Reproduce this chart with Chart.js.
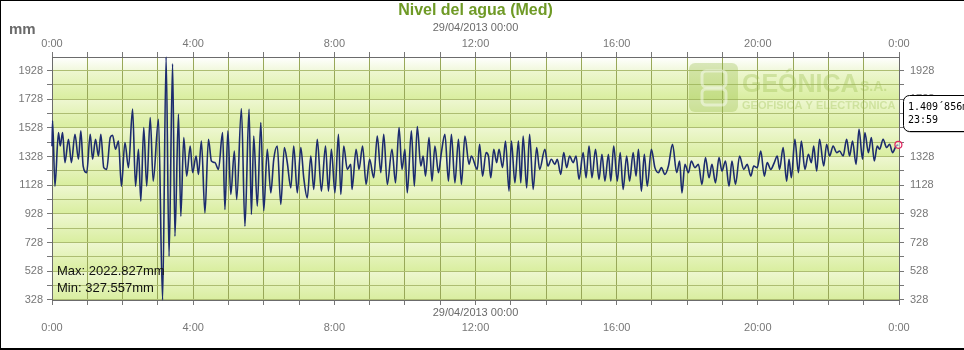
<!DOCTYPE html>
<html>
<head>
<meta charset="utf-8">
<title>Nivel del agua (Med)</title>
<script src="https://cdn.jsdelivr.net/npm/chart.js@4/dist/chart.umd.min.js"></script>
<style>
  html, body { margin: 0; padding: 0; background: #fff; }
  canvas { display: block; }
</style>
</head>
<body>
<canvas id="nivelChart" width="964" height="350"></canvas>
<script>
// minutes since 29/04/2013 00:00
const times = [
    0, 1, 5, 11, 14, 18, 22, 28, 33, 39, 45, 49, 53, 59, 65, 69, 74, 79, 83, 88, 93, 99, 103, 108, 113, 118,
    124, 130, 137, 142, 147, 151, 156, 161, 167, 172, 181, 188, 194, 199, 205, 209, 215, 219, 224, 229, 235,
    239, 245, 249, 254, 260, 266, 271, 277, 283, 290, 294, 299, 304, 310, 314, 322, 328, 335, 339, 343, 349,
    355, 360,
    366, 372, 377, 383, 389, 395, 400, 406, 411, 417, 423, 428, 434, 440, 445, 451, 458, 465, 470, 475, 481,
    487, 491, 496, 502, 508, 510, 517, 522, 528, 534, 540, 547, 553, 559, 564, 570, 578, 584, 590, 595, 600,
    604, 611, 616, 621, 627, 631, 635, 641, 646, 651, 657, 662, 668, 674, 679, 685, 691, 696, 702, 709, 713,
    723, 727, 732, 738, 742, 746, 751, 756, 760, 766, 771, 777, 781, 787, 793, 797, 801, 807, 812, 818, 824,
    829, 838, 843, 849, 855, 859, 865, 870, 875, 880, 886, 891, 896, 903, 908, 913, 918, 924, 930, 935, 940,
    946, 950, 955, 961, 966, 971, 977, 982, 988, 993, 997, 1002, 1007, 1012, 1019, 1025, 1031, 1036, 1042,
    1048, 1055, 1062, 1067, 1071,
    1076, 1082, 1087, 1093, 1099, 1105, 1111, 1117, 1122, 1128, 1134, 1139, 1145, 1151, 1156, 1162, 1169,
    1176, 1182, 1188, 1193, 1199, 1205, 1211, 1216, 1222, 1228, 1233, 1237, 1243, 1249, 1253, 1257, 1263,
    1269, 1274, 1280, 1286, 1291, 1295, 1300, 1305, 1312, 1317, 1322, 1328, 1334, 1339, 1345, 1351, 1356,
    1361, 1367, 1372, 1378, 1382, 1388, 1393, 1398, 1403, 1407, 1413, 1419, 1424, 1429, 1435, 1439
];
const levels = [
    1400, 1578, 1122, 1496, 1402, 1496, 1286, 1449, 1286, 1484, 1309, 1508, 1262, 1216, 1484, 1309, 1449,
    1332, 1484, 1251, 1239, 1461, 1477, 1379, 1437, 1122, 1426, 1251, 1659, 1122, 1379, 1017, 1531, 1122,
    1601, 1157, 1589, 327.557, 2022.827, 632, 1975, 772, 1624, 912, 1461, 1192, 1402, 1216, 1332, 1204,
    1437, 935, 1449, 1297, 1286, 1239, 1496, 959, 1508, 1064, 1367, 1029, 1664, 842, 1659, 924, 1472, 982,
    1566, 950,
    1379, 1075, 1309, 1402, 994, 1391, 1286, 1110, 1402, 1075, 1391, 1180, 1040, 1332, 1099, 1449, 1087,
    1402, 1087, 1379, 1075, 1484, 1064, 1402, 1239, 1274, 1099, 1379, 1239, 1402, 1134, 1309, 1180, 1472,
    1216, 1484, 1134, 1379, 1145, 1531, 1239, 1379, 1075, 1508, 1122, 1538, 1262, 1332, 1192, 1461, 1157,
    1402, 1216, 1356, 1484, 1157, 1484, 1145, 1449, 1134, 1472, 1274, 1332,
    1239, 1414, 1192, 1356, 1332, 1180, 1379, 1286, 1379, 1251, 1437, 1087, 1437, 1145, 1437, 1145, 1472,
    1110, 1484, 1099, 1391, 1239, 1379, 1262, 1309, 1274, 1309, 1204, 1356, 1251, 1332, 1286, 1332, 1169,
    1356, 1180, 1402, 1180, 1379, 1169, 1344, 1157, 1344, 1157, 1402, 1157, 1356, 1099, 1332, 1157, 1356,
    1192, 1379, 1087, 1344, 1122, 1379, 1251, 1216, 1251, 1204, 1262, 1414, 1216, 1297, 1075,
    1274, 1216, 1297, 1251, 1274, 1134, 1321, 1180, 1274, 1145, 1321, 1227, 1297, 1122, 1297, 1134, 1332,
    1239, 1274, 1192, 1262, 1251, 1367, 1192, 1286, 1239, 1286, 1332, 1239, 1391, 1157, 1309, 1180, 1449,
    1216, 1437, 1239, 1344, 1286, 1402, 1227, 1449, 1262, 1414, 1332, 1402, 1356, 1367, 1332, 1449, 1332,
    1437, 1274, 1519, 1309, 1496, 1356, 1461, 1297, 1402, 1379, 1449, 1391, 1414, 1356, 1402, 1409.856
];
const hourTicks = [0, 60, 120, 180, 240, 300, 360, 420, 480, 540, 600, 660, 720, 780, 840, 900, 960,
    1020, 1080, 1140, 1200, 1260, 1320, 1380, 1440];
const hourLabels = ['0:00', '4:00', '8:00', '12:00', '16:00', '20:00', '0:00'];
const levelTicks = [328, 428, 528, 628, 728, 828, 928, 1028, 1128, 1228, 1328, 1428, 1528, 1628, 1728, 1828, 1928];
const levelMin = 327.557;
const levelMax = 2022.827;

const FONT = "'Liberation Sans', Arial, sans-serif";

function hourLabel(value) {
    return value % 240 === 0 ? hourLabels[value / 240] : '';
}

function levelLabel(value) {
    return (value - 328) % 200 === 0 ? String(value) : '';
}

function roundRect(ctx, x, y, w, h, r) {
    ctx.beginPath();
    ctx.moveTo(x + r, y);
    ctx.arcTo(x + w, y, x + w, y + h, r);
    ctx.arcTo(x + w, y + h, x, y + h, r);
    ctx.arcTo(x, y + h, x, y, r);
    ctx.arcTo(x, y, x + w, y, r);
    ctx.closePath();
}

const backgroundBands = {
    id: 'backgroundBands',
    beforeDraw(chart) {
        const { ctx, chartArea: a } = chart;
        const ys = chart.scales.y;
        ctx.save();
        ctx.fillStyle = '#fff';
        ctx.fillRect(0, 0, chart.width, chart.height);
        const w = a.right - a.left;
        let top = ys.getPixelForValue(1928);
        let g = ctx.createLinearGradient(0, a.top, 0, top);
        g.addColorStop(0, '#ffffff');
        g.addColorStop(1, '#f1f8dc');
        ctx.fillStyle = g;
        ctx.fillRect(a.left, a.top, w, top - a.top);
        for (let v = 1928; v > 328; v -= 200) {
            const y0 = ys.getPixelForValue(v);
            const y1 = ys.getPixelForValue(v - 200);
            g = ctx.createLinearGradient(0, y0, 0, y1);
            g.addColorStop(0, '#eef7d1');
            g.addColorStop(1, '#d9ee9f');
            ctx.fillStyle = g;
            ctx.fillRect(a.left, y0, w, y1 - y0);
        }
        ctx.restore();
    },
    beforeDatasetsDraw(chart) {
        // GEÓNICA watermark
        const ctx = chart.ctx;
        ctx.save();
        ctx.fillStyle = 'rgba(150, 188, 70, 0.32)';
        roundRect(ctx, 689, 63, 49, 49, 6);
        ctx.fill();
        ctx.strokeStyle = 'rgba(255, 255, 255, 0.45)';
        ctx.lineWidth = 3;
        roundRect(ctx, 702, 71, 24, 16, 4);
        ctx.stroke();
        roundRect(ctx, 702, 89, 24, 16, 4);
        ctx.stroke();
        ctx.fillStyle = 'rgba(150, 188, 70, 0.32)';
        ctx.textBaseline = 'alphabetic';
        ctx.textAlign = 'left';
        ctx.font = 'bold 25px ' + FONT;
        ctx.fillText('GEÓNICA', 742, 92);
        ctx.font = 'bold 14px ' + FONT;
        ctx.fillText('S.A.', 860, 91);
        ctx.font = 'bold 11px ' + FONT;
        ctx.fillText('GEOFISICA Y ELECTRÓNICA', 742, 109);
        ctx.restore();
    },
    afterDraw(chart) {
        const { ctx, chartArea: a } = chart;
        const cx = (a.left + a.right) / 2;
        ctx.save();
        ctx.textBaseline = 'middle';
        ctx.textAlign = 'center';
        ctx.fillStyle = '#6f9a26';
        ctx.font = 'bold 16px ' + FONT;
        ctx.fillText('Nivel del agua (Med)', cx, 11);
        ctx.fillStyle = '#6a6a6a';
        ctx.font = '11px ' + FONT;
        ctx.fillText('29/04/2013 00:00', cx, 28);
        ctx.fillText('29/04/2013 00:00', cx, 313);
        ctx.textAlign = 'left';
        ctx.font = 'bold 15px ' + FONT;
        ctx.fillText('mm', 9, 30);

        ctx.fillStyle = '#111';
        ctx.font = '13px ' + FONT;
        ctx.fillText('Max: 2022.827mm', 57, 271);
        ctx.fillText('Min: 327.557mm', 57, 288);

        // value box for the last reading
        ctx.fillStyle = 'rgba(0, 0, 0, 0.2)';
        roundRect(ctx, 905, 97, 80, 36, 6);
        ctx.fill();
        ctx.fillStyle = '#fff';
        roundRect(ctx, 903.5, 95.5, 80, 36, 6);
        ctx.fill();
        ctx.strokeStyle = '#000';
        ctx.lineWidth = 1;
        ctx.stroke();
        ctx.fillStyle = '#000';
        ctx.font = "10px 'DejaVu Sans Mono', 'Liberation Mono', monospace";
        ctx.fillText('1.409´856m', 908, 107);
        ctx.fillText('23:59', 908, 120);

        // frame
        ctx.fillStyle = '#000';
        ctx.fillRect(0, 0, chart.width, 1);
        ctx.fillRect(0, 0, 1, chart.height);
        ctx.fillRect(0, chart.height - 2, chart.width, 2);
        ctx.restore();
    }
};

const points = times.map((t, i) => ({ x: t, y: levels[i] }));
const lastIndex = points.length - 1;

function axisX(position, onArea) {
    return {
        type: 'linear',
        position: position,
        min: 0,
        max: 1440,
        afterBuildTicks: (s) => { s.ticks = hourTicks.map((v) => ({ value: v })); },
        afterFit: (s) => { s.height = position === 'top' ? 57 : 50; },
        grid: { color: '#98a858', drawOnChartArea: onArea, tickLength: 5, tickColor: '#777' },
        border: { color: '#6b6b6b' },
        ticks: {
            autoSkip: false,
            maxRotation: 0,
            padding: position === 'top' ? 1 : 16,
            color: '#777',
            font: { family: FONT, size: 11 },
            callback: hourLabel,
        },
    };
}

function axisY(position, onArea) {
    return {
        type: 'linear',
        position: position,
        min: levelMin,
        max: levelMax,
        afterBuildTicks: (s) => { s.ticks = levelTicks.map((v) => ({ value: v })); },
        afterFit: (s) => { s.width = position === 'left' ? 52 : 65; },
        grid: { color: '#adbd72', drawOnChartArea: onArea, tickLength: 5, tickColor: '#777' },
        border: { color: '#6b6b6b' },
        ticks: {
            autoSkip: false,
            padding: position === 'left' ? 4 : 6,
            color: '#777',
            font: { family: FONT, size: 11 },
            callback: levelLabel,
        },
    };
}

new Chart(document.getElementById('nivelChart'), {
    type: 'line',
    data: {
        datasets: [
            {
                label: 'Nivel del agua (Med)',
                data: points,
                xAxisID: 'x',
                yAxisID: 'y',
                borderColor: '#1c2b6e',
                borderWidth: 1.6,
                cubicInterpolationMode: 'monotone',
                clip: false,
                pointRadius: (c) => (c.dataIndex === lastIndex ? 3.5 : 0),
                pointBorderColor: '#e0245e',
                pointBackgroundColor: 'rgba(255, 255, 255, 0.5)',
                pointBorderWidth: 1.2,
            },
        ],
    },
    options: {
        responsive: false,
        animation: false,
        layout: { padding: 0 },
        plugins: {
            legend: { display: false },
            tooltip: { enabled: false },
        },
        scales: {
            x: axisX('bottom', true),
            x2: axisX('top', false),
            y: axisY('left', true),
            y2: axisY('right', false),
        },
    },
    plugins: [backgroundBands],
});
</script>
</body>
</html>
